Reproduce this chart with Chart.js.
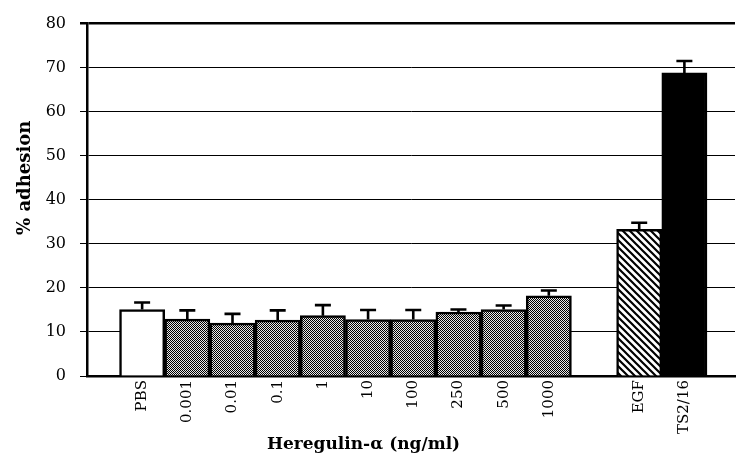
<!DOCTYPE html>
<html>
<head>
<meta charset="utf-8">
<script src="https://cdn.jsdelivr.net/npm/chart.js@4/dist/chart.umd.min.js"></script>
<style>
  html, body { margin: 0; padding: 0; background: #ffffff; }
  #wrap { width: 736px; height: 460px; }
</style>
</head>
<body>
<div id="wrap"><canvas id="c" width="736" height="460"></canvas></div>
<script>
// ---- data ----
const categories = ['PBS', '0.001', '0.01', '0.1', '1', '10', '100', '250', '500', '1000', '', 'EGF', 'TS2/16'];
const adhesion   = [15.1, 12.9, 12.0, 12.7, 13.7, 12.8, 12.8, 14.5, 15.1, 18.2, null, 33.3, 68.8];
const errorTop   = [16.7, 14.9, 14.1, 14.9, 16.1, 15.0, 15.0, 15.1, 16.0, 19.4, null, 34.8, 71.5];
const yTicks     = [0, 10, 20, 30, 40, 50, 60, 70, 80];
const yTitle = '% adhesion';
const xTitle = 'Heregulin-\u03B1 (ng/ml)';

// ---- fills ----
const canvas = document.getElementById('c');
const mainCtx = canvas.getContext('2d');

function makeMesh() {
  const t = document.createElement('canvas');
  t.width = 2; t.height = 2;
  const c = t.getContext('2d');
  c.fillStyle = '#e8e8e8';
  c.fillRect(0, 0, 2, 2);
  c.fillStyle = '#000000';
  c.fillRect(0, 0, 1, 1);
  c.fillRect(1, 1, 1, 1);
  return mainCtx.createPattern(t, 'repeat');
}
function makeHatch() {
  const s = 7;
  const t = document.createElement('canvas');
  t.width = s; t.height = s;
  const c = t.getContext('2d');
  c.fillStyle = '#ffffff';
  c.fillRect(0, 0, s, s);
  c.strokeStyle = '#000000';
  c.lineWidth = 2.2;
  c.beginPath();
  c.moveTo(-1, -1); c.lineTo(s + 1, s + 1);
  c.moveTo(-1, s - 1); c.lineTo(1, s + 1);
  c.moveTo(s - 1, -1); c.lineTo(s + 1, 1);
  c.stroke();
  return mainCtx.createPattern(t, 'repeat');
}
const mesh = makeMesh();
const hatch = makeHatch();

function fillFor(label) {
  if (label === 'PBS') return '#ffffff';
  if (label === 'EGF') return hatch;
  if (label === 'TS2/16') return '#000000';
  return mesh;
}

const points = [];
const colors = [];
categories.forEach((c, i) => {
  if (c !== '' && adhesion[i] !== null) {
    points.push({ x: i, y: adhesion[i] });
    colors.push(fillFor(c));
  }
});

const errorBars = {
  id: 'errorBars',
  afterDatasetsDraw(chart) {
    const { ctx, scales: { x, y } } = chart;
    ctx.save();
    ctx.strokeStyle = '#000';
    ctx.lineWidth = 2.6;
    categories.forEach((c, i) => {
      if (c === '' || errorTop[i] === null) return;
      const px = x.getPixelForValue(i);
      const yb = y.getPixelForValue(adhesion[i]);
      const yt = y.getPixelForValue(errorTop[i]);
      ctx.beginPath();
      ctx.moveTo(px, yb);
      ctx.lineTo(px, yt);
      ctx.moveTo(px - 8, yt);
      ctx.lineTo(px + 8, yt);
      ctx.stroke();
    });
    ctx.restore();
  }
};

const titles = {
  id: 'titles',
  afterDraw(chart) {
    const { ctx, chartArea, scales: { x } } = chart;
    ctx.save();
    ctx.fillStyle = '#000';
    ctx.textAlign = 'center';
    ctx.textBaseline = 'alphabetic';
    ctx.font = 'bold 17px "DejaVu Serif"';
    ctx.fillText(xTitle, x.getPixelForValue(4.9), 449);
    ctx.translate(30, (chartArea.top + chartArea.bottom) / 2 - 22);
    ctx.rotate(-Math.PI / 2);
    ctx.font = 'bold 18px "DejaVu Serif"';
    ctx.fillText(yTitle, 0, 0);
    ctx.restore();
  }
};

new Chart(canvas, {
  type: 'bar',
  data: {
    datasets: [{
      data: points,
      backgroundColor: colors,
      borderColor: '#000000',
      borderWidth: 2.5,
      barPercentage: 1,
      categoryPercentage: 1
    }]
  },
  options: {
    responsive: false,
    animation: false,
    layout: { padding: { top: 15, right: 1, left: 0, bottom: 0 } },
    plugins: { legend: { display: false }, tooltip: { enabled: false }, title: { display: false } },
    scales: {
      x: {
        type: 'linear',
        offset: false,
        min: -1.22,
        max: 13.12,
        grid: { display: false, drawTicks: false },
        border: { display: true, color: '#000', width: 2.5 },
        afterBuildTicks(scale) {
          scale.ticks = categories.map((c, i) => ({ value: i })).filter(t => categories[t.value] !== '');
        },
        afterFit(scale) { scale.height = 84; },
        ticks: {
          autoSkip: false,
          maxRotation: 90,
          minRotation: 90,
          padding: 4,
          color: '#000',
          font: { family: '"DejaVu Serif"', size: 15 },
          callback: (v) => categories[v]
        }
      },
      y: {
        min: 0,
        max: 80,
        afterBuildTicks(scale) { scale.ticks = yTicks.map(v => ({ value: v })); },
        afterFit(scale) { scale.width = 87; },
        grid: {
          color: '#000',
          lineWidth: (ctx) => (ctx.tick && ctx.tick.value === 80 ? 2.5 : 1),
          drawTicks: true,
          tickLength: 7
        },
        border: { display: true, color: '#000', width: 2.5 },
        ticks: {
          padding: 14,
          color: '#000',
          font: { family: '"DejaVu Serif"', size: 16 }
        }
      }
    }
  },
  plugins: [errorBars, titles]
});
</script>
</body>
</html>
